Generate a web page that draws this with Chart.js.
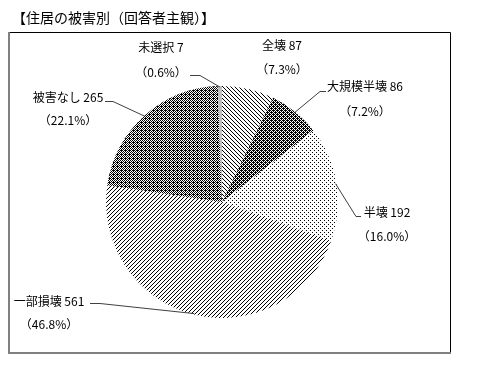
<!DOCTYPE html>
<html lang="ja">
<head>
<meta charset="utf-8">
<script src="https://cdn.jsdelivr.net/npm/chart.js@4"></script>
<style>
    html, body { margin: 0; padding: 0; background: #fff; }
    #wrap { position: relative; width: 480px; height: 372px; }
</style>
</head>
<body>
<div id="wrap"><canvas id="pie-chart" width="480" height="372"></canvas></div>
<script>
    "use strict";

    // Data
    var title = "【住居の被害別（回答者主観）】";
    var categories = ["全壊", "大規模半壊", "半壊", "一部損壊", "被害なし", "未選択"];
    var counts = [87, 86, 192, 561, 265, 7];

    var total = counts.reduce(function (a, b) { return a + b; }, 0);
    var percents = counts.map(function (v) { return (v / total * 100).toFixed(1) + "%"; });

    var FONT = '"Noto Sans CJK JP", "Noto Sans", sans-serif';

    // Fill patterns
    function makePattern(size, bg, fn) {
        var c = document.createElement("canvas");
        c.width = size; c.height = size;
        var g = c.getContext("2d");
        g.fillStyle = bg;
        g.fillRect(0, 0, size, size);
        g.fillStyle = "#000";
        for (var y = 0; y < size; y++) {
            for (var x = 0; x < size; x++) {
                if (fn(x, y)) g.fillRect(x, y, 1, 1);
            }
        }
        return g.createPattern(c, "repeat");
    }

    var ctx = document.getElementById("pie-chart").getContext("2d");

    var fills = [
        makePattern(4, "#fff", function (x, y) { return (x - y + 8) % 4 === 0; }),           // 全壊 \\\
        makePattern(4, "#fff", function (x, y) { return (x + y) % 2 === 0 || (x === 1 && y === 2) || (x === 3 && y === 0); }), // 大規模半壊
        makePattern(4, "#fff", function (x, y) { return (x === 0 && y === 0) || (x === 2 && y === 2); }), // 半壊 dots
        makePattern(4, "#fff", function (x, y) { return (x + y) % 4 === 0; }),               // 一部損壊 ///
        makePattern(4, "#fff", function (x, y) { return (x + y) % 2 === 0 || (x === 1 && y === 2); }), // 被害なし
        "#c0c0c0"                                                                            // 未選択
    ];

    // Label placement (text centre x, line 1 y, line 2 y, leader elbow, leader end)
    var labelLayout = [
        { x: 282, y1: 45, y2: 69 },
        { x: 365, y1: 86, y2: 111, elbow: [320, 91], end: [326, 91] },
        { x: 387, y1: 212, y2: 236, elbow: [356, 216], end: [361, 216] },
        { x: 49, y1: 301, y2: 324, elbow: [100, 303], end: [90, 303] },
        { x: 68, y1: 97, y2: 120, elbow: [113, 101], end: [105, 101] },
        { x: 161, y1: 47, y2: 72, elbow: [200, 75], end: [190, 75] }
    ];

    // Frame and title
    var framePlugin = {
        id: "frame",
        beforeDraw: function (chart) {
            var c = chart.ctx;
            c.save();
            c.fillStyle = "#fff";
            c.fillRect(0, 0, chart.width, chart.height);
            c.fillStyle = "#000";
            c.font = "14px " + FONT;
            c.textAlign = "left";
            c.textBaseline = "middle";
            c.fillText(title, 12, 18);

            c.strokeStyle = "#000";
            c.lineWidth = 1;
            c.beginPath();
            c.moveTo(9, 32.5); c.lineTo(450.5, 32.5); c.lineTo(450.5, 353);
            c.stroke();
            c.strokeStyle = "#808080";
            c.lineWidth = 2;
            c.beginPath();
            c.moveTo(9, 32); c.lineTo(9, 353); c.lineTo(451, 353);
            c.stroke();
            c.restore();
        }
    };

    // Labels with leader lines
    var labelPlugin = {
        id: "sliceLabels",
        afterDraw: function (chart) {
            var c = chart.ctx;
            var arcs = chart.getDatasetMeta(0).data;
            c.save();
            c.font = "12px " + FONT;
            c.textAlign = "center";
            c.textBaseline = "middle";
            arcs.forEach(function (arc, i) {
                var L = labelLayout[i];
                if (L.elbow) {
                    var mid = (arc.startAngle + arc.endAngle) / 2;
                    var px = arc.x + Math.cos(mid) * (arc.outerRadius - 1);
                    var py = arc.y + Math.sin(mid) * (arc.outerRadius - 1);
                    c.strokeStyle = "#404040";
                    c.lineWidth = 1;
                    c.beginPath();
                    c.moveTo(px, py);
                    c.lineTo(L.elbow[0], L.elbow[1] + 0.5);
                    c.lineTo(L.end[0], L.end[1] + 0.5);
                    c.stroke();
                }
                c.fillStyle = "#000";
                c.fillText(categories[i] + " " + counts[i], L.x, L.y1);
                c.fillText("（" + percents[i] + "）", L.x, L.y2);
            });
            c.restore();
        }
    };

    var myChart = new Chart(ctx, {
        type: "pie",
        data: {
            labels: categories,
            datasets: [{
                data: counts,
                backgroundColor: fills,
                borderWidth: 0
            }]
        },
        options: {
            responsive: false,
            animation: false,
            events: [],
            layout: { padding: { left: 106, right: 142, top: 86, bottom: 54 } },
            plugins: {
                legend: { display: false },
                tooltip: { enabled: false }
            }
        },
        plugins: [framePlugin, labelPlugin]
    });
</script>
</body>
</html>
